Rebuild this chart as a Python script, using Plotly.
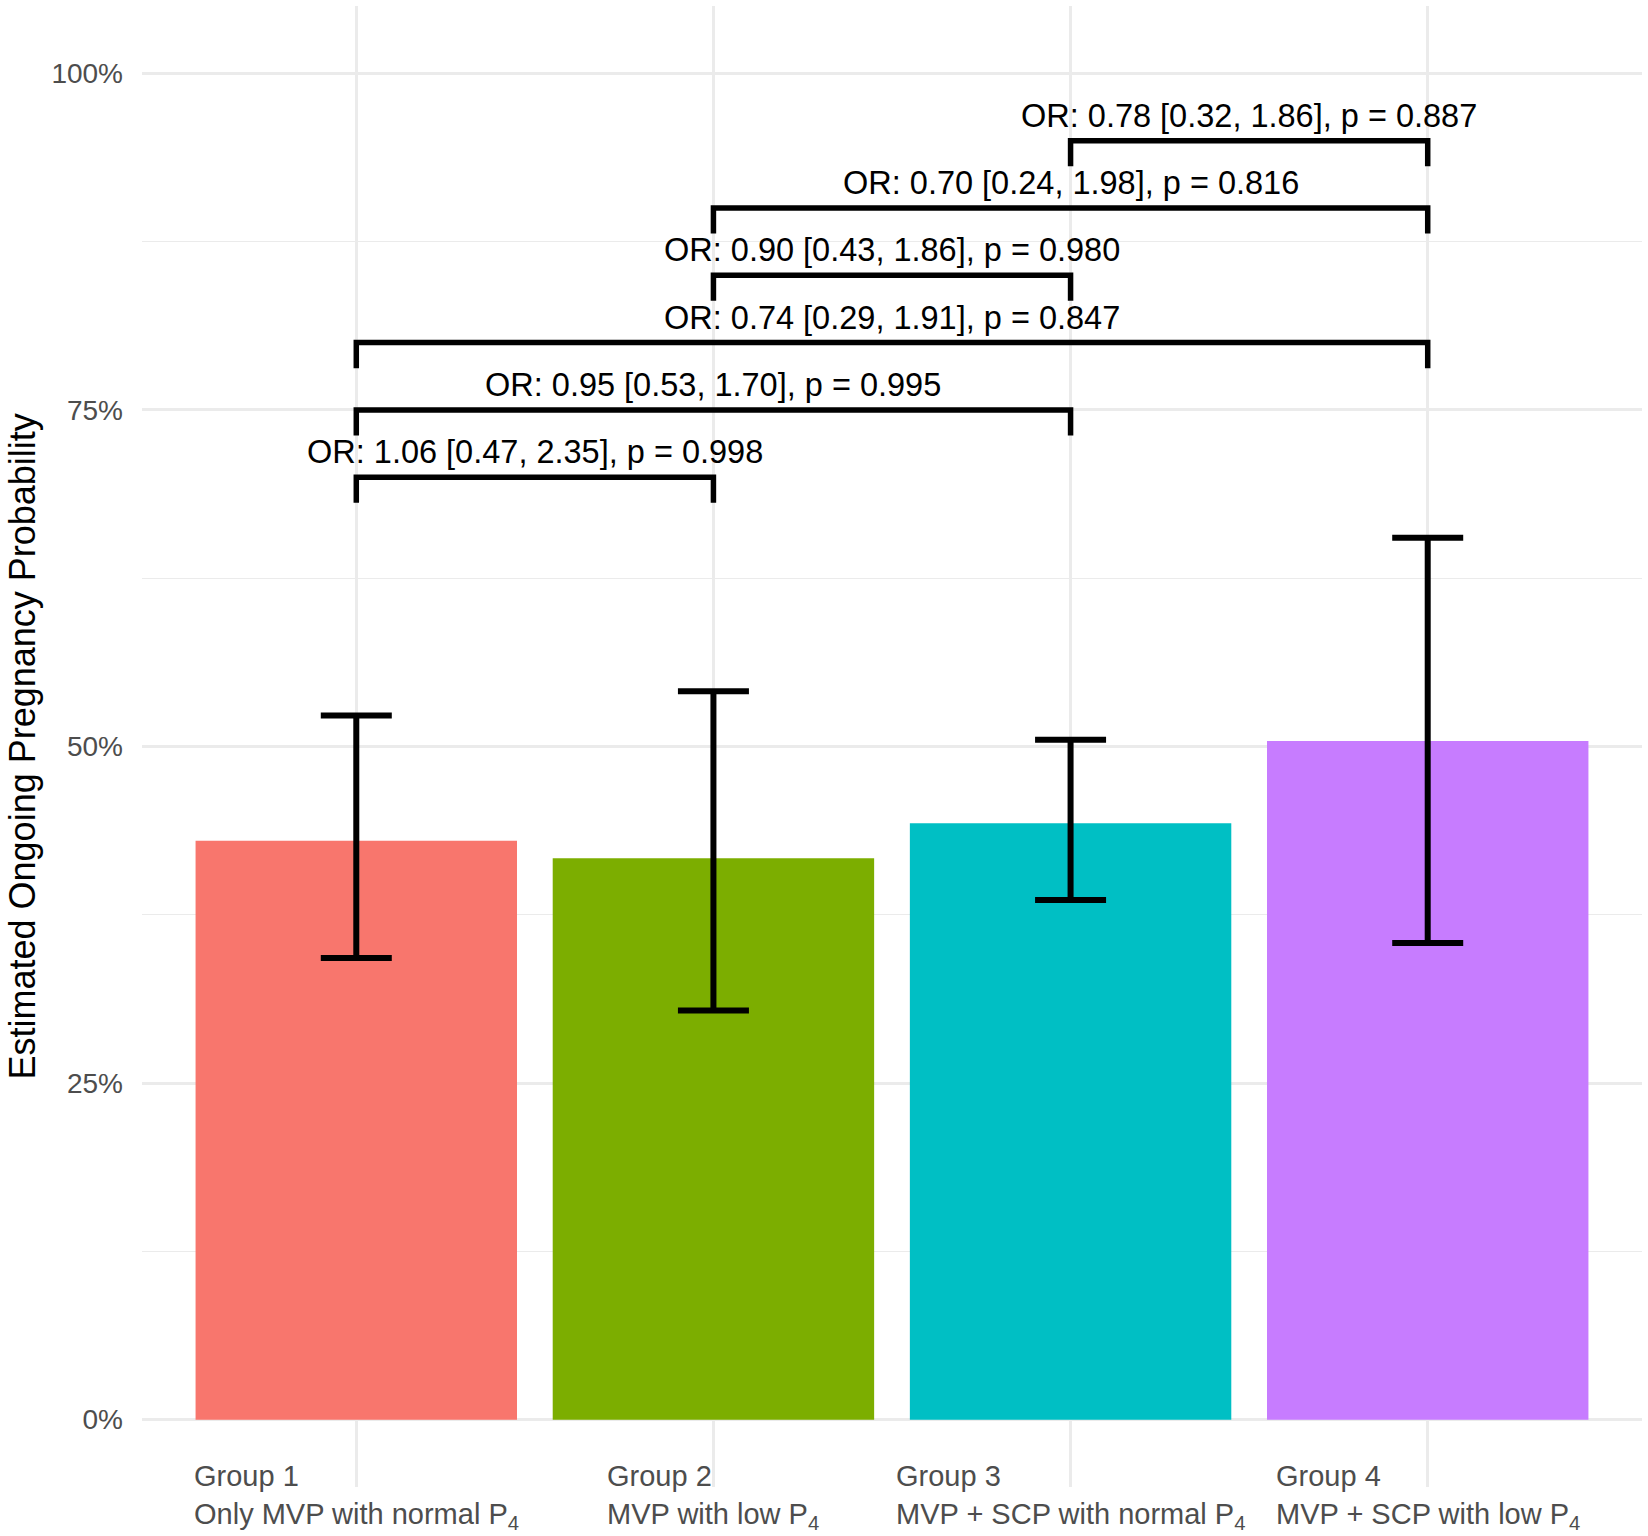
import plotly.graph_objects as go

# group labels (x axis)
groups = ["Group 1", "Group 2", "Group 3", "Group 4"]
descriptions = [
    "Only MVP with normal P<sub>4</sub>",
    "MVP with low P<sub>4</sub>",
    "MVP + SCP with normal P<sub>4</sub>",
    "MVP + SCP with low P<sub>4</sub>",
]
colors = ["#F8766D", "#7CAE00", "#00BFC4", "#C77CFF"]

# estimated probabilities and 95% CI
estimates = [0.430, 0.417, 0.443, 0.504]
ci_low = [0.343, 0.304, 0.386, 0.354]
ci_high = [0.523, 0.541, 0.505, 0.655]

# pairwise comparisons (1-based group index)
comp_from = [1, 1, 1, 2, 2, 3]
comp_to = [2, 3, 4, 3, 4, 4]
comp_y = [0.70, 0.75, 0.80, 0.85, 0.90, 0.95]
comp_labels = [
    "OR: 1.06 [0.47, 2.35], p = 0.998",
    "OR: 0.95 [0.53, 1.70], p = 0.995",
    "OR: 0.74 [0.29, 1.91], p = 0.847",
    "OR: 0.90 [0.43, 1.86], p = 0.980",
    "OR: 0.70 [0.24, 1.98], p = 0.816",
    "OR: 0.78 [0.32, 1.86], p = 0.887",
]
tip = 0.019

y_ticks = [0, 0.25, 0.5, 0.75, 1.0]
y_ticktext = ["0%", "25%", "50%", "75%", "100%"]
y_minor = [0.125, 0.375, 0.625, 0.875]

FONT = "Liberation Sans, Arial, Helvetica, sans-serif"
xpos = list(range(len(groups)))

fig = go.Figure()

fig.add_trace(go.Bar(
    x=xpos, y=estimates, width=0.9,
    marker=dict(color=colors, line=dict(width=0)),
    error_y=dict(type="data", symmetric=False,
                 array=[h - e for h, e in zip(ci_high, estimates)],
                 arrayminus=[e - l for e, l in zip(estimates, ci_low)],
                 color="black", thickness=6, width=35.5),
    showlegend=False, hoverinfo="skip",
))

# comparison brackets
bx, by = [], []
for a, b, y in zip(comp_from, comp_to, comp_y):
    bx += [a - 1, a - 1, b - 1, b - 1, None]
    by += [y - tip, y, y, y - tip, None]
fig.add_trace(go.Scatter(
    x=bx, y=by, mode="lines",
    line=dict(color="black", width=5.5),
    showlegend=False, hoverinfo="skip",
))

annotations = []
for a, b, y, lab in zip(comp_from, comp_to, comp_y, comp_labels):
    annotations.append(dict(
        x=(a + b) / 2 - 1, y=y, xref="x", yref="y", text=lab,
        showarrow=False, xanchor="center", yanchor="bottom", yshift=5,
        font=dict(family=FONT, size=32.5, color="black"),
    ))

# x tick labels: centred block, lines left aligned
for i, (g, d) in enumerate(zip(groups, descriptions)):
    annotations.append(dict(
        x=i, y=0.0195, xref="x", yref="paper", text=f"{g}<br>{d}",
        showarrow=False, xanchor="center", yanchor="top", align="left",
        font=dict(family=FONT, size=29, color="#4D4D4D"),
    ))

# y axis title
annotations.append(dict(
    x=-0.08, y=0.5, xref="paper", yref="paper",
    text="Estimated Ongoing Pregnancy Probability", textangle=-90,
    showarrow=False, xanchor="center", yanchor="middle",
    font=dict(family=FONT, size=36, color="black"),
))

fig.update_layout(
    width=1648, height=1536,
    margin=dict(l=142, r=6, t=6, b=49),
    plot_bgcolor="white", paper_bgcolor="white",
    font=dict(family=FONT),
    annotations=annotations,
    xaxis=dict(range=[-0.6, 3.6], tickvals=xpos, showticklabels=False,
               showgrid=True, gridcolor="#EBEBEB", gridwidth=2.8,
               zeroline=False, showline=False, ticks=""),
    yaxis=dict(range=[-0.05, 1.05], tickvals=y_ticks, ticktext=y_ticktext,
               showgrid=True, gridcolor="#EBEBEB", gridwidth=2.8,
               zeroline=False, showline=False, ticks="",
               ticklabelstandoff=18,
               tickfont=dict(family=FONT, size=28, color="#4D4D4D"),
               minor=dict(tickvals=y_minor, showgrid=True,
                          gridcolor="#EBEBEB", gridwidth=1.4)),
)

# drop the default page margin so the figure sits at the window origin
fig.write_html("out.html", config={"displayModeBar": False},
               post_script="document.body.style.margin = '0';")
